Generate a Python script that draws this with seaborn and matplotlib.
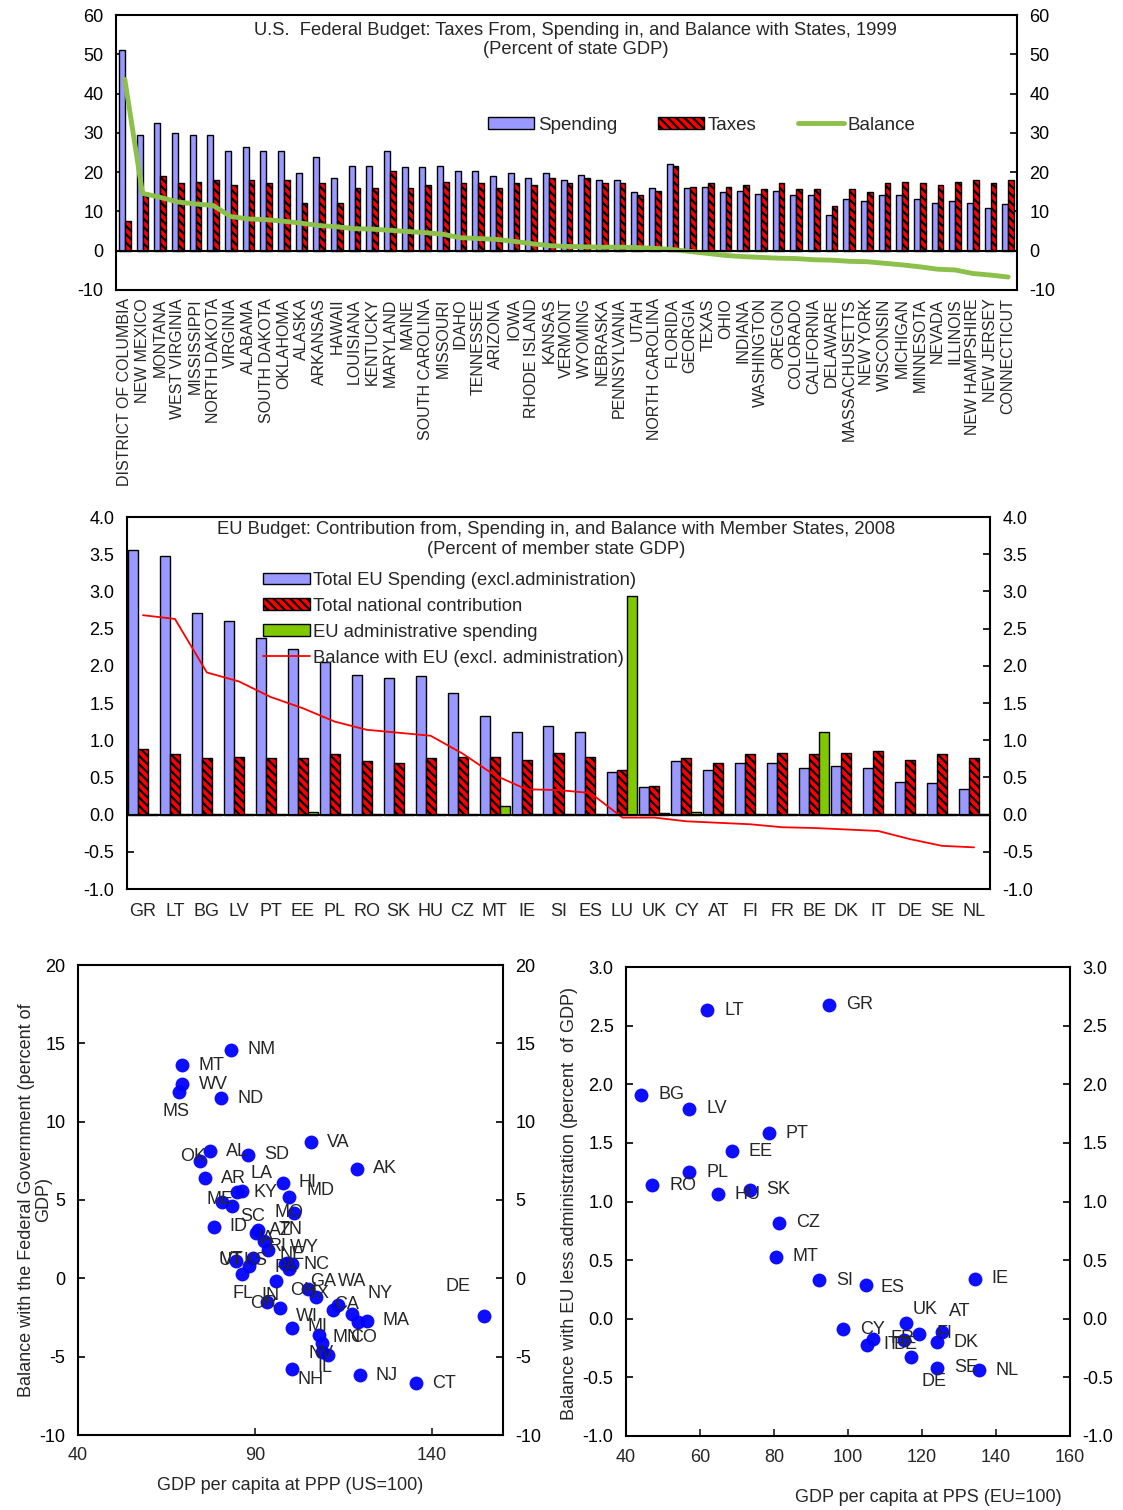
import numpy as np
import pandas as pd
import matplotlib
matplotlib.use("Agg")
import matplotlib.pyplot as plt
import seaborn as sns
from matplotlib.patches import Patch
from matplotlib.lines import Line2D
from matplotlib.ticker import FormatStrFormatter, MultipleLocator

# ---------------- data: US federal budget 1999 ----------------
states = ["DISTRICT OF COLUMBIA", "NEW MEXICO", "MONTANA", "WEST VIRGINIA", "MISSISSIPPI",
          "NORTH DAKOTA", "VIRGINIA", "ALABAMA", "SOUTH DAKOTA", "OKLAHOMA", "ALASKA",
          "ARKANSAS", "HAWAII", "LOUISIANA", "KENTUCKY", "MARYLAND", "MAINE",
          "SOUTH CAROLINA", "MISSOURI", "IDAHO", "TENNESSEE", "ARIZONA", "IOWA",
          "RHODE ISLAND", "KANSAS", "VERMONT", "WYOMING", "NEBRASKA", "PENNSYLVANIA",
          "UTAH", "NORTH CAROLINA", "FLORIDA", "GEORGIA", "TEXAS", "OHIO", "INDIANA",
          "WASHINGTON", "OREGON", "COLORADO", "CALIFORNIA", "DELAWARE", "MASSACHUSETTS",
          "NEW YORK", "WISCONSIN", "MICHIGAN", "MINNESOTA", "NEVADA", "ILLINOIS",
          "NEW HAMPSHIRE", "NEW JERSEY", "CONNECTICUT"]
state_codes = ["DC", "NM", "MT", "WV", "MS", "ND", "VA", "AL", "SD", "OK", "AK", "AR", "HI",
               "LA", "KY", "MD", "ME", "SC", "MO", "ID", "TN", "AZ", "IA", "RI", "KS", "VT",
               "WY", "NE", "PA", "UT", "NC", "FL", "GA", "TX", "OH", "IN", "WA", "OR", "CO",
               "CA", "DE", "MA", "NY", "WI", "MI", "MN", "NV", "IL", "NH", "NJ", "CT"]
us_spending = [51.1, 29.5, 32.6, 29.9, 29.5, 29.5, 25.5, 26.5, 25.5, 25.5, 19.8, 23.8, 18.4,
               21.6, 21.6, 25.5, 21.2, 21.2, 21.6, 20.3, 20.3, 19.0, 19.8, 18.4, 19.8, 18.0,
               19.4, 18.0, 18.0, 14.9, 15.9, 22.0, 15.9, 16.3, 14.9, 15.3, 14.5, 15.3, 14.1,
               14.1, 9.1, 13.2, 12.7, 14.1, 14.1, 13.2, 12.2, 12.7, 12.2, 10.9, 11.8]
us_taxes = [7.5, 14.7, 19.0, 17.2, 17.6, 18.0, 16.8, 18.0, 17.2, 18.0, 12.2, 17.2, 12.2,
            15.9, 15.9, 20.3, 15.9, 16.8, 17.6, 17.2, 17.2, 15.9, 17.2, 16.7, 18.4, 17.2,
            18.4, 17.2, 17.2, 14.1, 15.3, 21.6, 16.3, 17.2, 16.3, 16.7, 15.8, 17.2, 15.8,
            15.8, 11.4, 15.8, 14.9, 17.2, 17.6, 17.2, 16.7, 17.6, 18.0, 17.2, 18.0]
us_balance = [43.6, 14.6, 13.6, 12.4, 11.9, 11.5, 8.7, 8.1, 7.9, 7.5, 7.0, 6.4, 6.1, 5.6,
              5.5, 5.2, 4.9, 4.6, 4.2, 3.3, 3.1, 2.9, 2.4, 1.8, 1.3, 1.1, 1.0, 0.9, 0.9, 0.8,
              0.6, 0.3, -0.2, -0.7, -1.2, -1.5, -1.7, -1.9, -2.0, -2.3, -2.4, -2.7, -2.8,
              -3.2, -3.6, -4.1, -4.7, -4.9, -5.8, -6.2, -6.7]
us_gdp = [np.nan, 83.2, 69.5, 69.5, 68.6, 80.4, 105.8, 77.4, 88.0, 74.4, 118.9, 75.9, 97.8,
          86.4, 85.0, 99.6, 80.7, 83.5, 101.0, 78.3, 90.8, 90.2, 92.5, 93.6, 89.5, 84.7,
          99.0, 98.5, 100.5, 88.2, 99.5, 86.3, 96.0, 104.8, 107.3, 93.5, 113.4, 97.0,
          112.0, 117.5, 154.5, 121.5, 119.0, 100.5, 108.0, 109.0, 109.0, 110.5, 100.4,
          119.5, 135.4]

# ---------------- data: EU budget 2008 ----------------
eu_countries = ["GR", "LT", "BG", "LV", "PT", "EE", "PL", "RO", "SK", "HU", "CZ", "MT", "IE",
                "SI", "ES", "LU", "UK", "CY", "AT", "FI", "FR", "BE", "DK", "IT", "DE", "SE",
                "NL"]
eu_spending = [3.56, 3.47, 2.71, 2.60, 2.37, 2.23, 2.05, 1.88, 1.84, 1.86, 1.63, 1.33, 1.11,
               1.19, 1.11, 0.57, 0.37, 0.72, 0.60, 0.69, 0.69, 0.63, 0.65, 0.63, 0.44, 0.42,
               0.35]
eu_contribution = [0.88, 0.81, 0.76, 0.78, 0.76, 0.76, 0.81, 0.72, 0.69, 0.76, 0.78, 0.78,
                   0.74, 0.83, 0.78, 0.60, 0.39, 0.76, 0.69, 0.81, 0.83, 0.81, 0.83, 0.85,
                   0.74, 0.81, 0.76]
eu_admin = [0.01, 0.01, 0.01, 0.01, 0.01, 0.03, 0.01, 0.01, 0.01, 0.01, 0.01, 0.12, 0.01,
            0.01, 0.01, 2.94, 0.02, 0.03, 0.01, 0.01, 0.01, 1.11, 0.01, 0.01, 0.01, 0.01,
            0.01]
eu_balance = [2.68, 2.63, 1.91, 1.79, 1.58, 1.43, 1.25, 1.14, 1.10, 1.06, 0.82, 0.53, 0.34,
              0.33, 0.29, -0.04, -0.04, -0.09, -0.11, -0.13, -0.17, -0.18, -0.20, -0.22,
              -0.33, -0.42, -0.44]
eu_gdp = [94.8, 62.0, 44.1, 57.1, 78.6, 68.6, 57.1, 47.1, 73.4, 64.8, 81.4, 80.5, 134.2,
          92.2, 104.8, np.nan, 115.7, 98.6, 125.3, 119.3, 106.8, 115.0, 124.0, 105.0, 117.0,
          124.0, 135.4]

# ---------------- style ----------------
sns.set_theme(style="ticks")
plt.rcParams["font.family"] = ["Liberation Sans", "DejaVu Sans"]
plt.rcParams["hatch.linewidth"] = 1.6
plt.rcParams["axes.linewidth"] = 1.5
plt.rcParams["axes.unicode_minus"] = False

BLUE = "#9999FF"
RED = "#FF0000"
GREEN_LINE = "#8CC04A"
GREEN_BAR = "#80C800"
HATCH = "\\\\\\\\"
FS = 13

W, H = 1123, 1510
fig = plt.figure(figsize=(W / 100, H / 100), dpi=100)


def px_axes(x0, y0, x1, y1):
    return fig.add_axes([x0 / W, 1 - y1 / H, (x1 - x0) / W, (y1 - y0) / H])


def style_box(ax):
    for s in ax.spines.values():
        s.set_visible(True)
        s.set_color("black")
        s.set_linewidth(1.5)
    ax.tick_params(axis="y", which="both", direction="in", length=5, width=1.2,
                   left=True, right=True, labelleft=True, labelright=True,
                   labelsize=FS, pad=9, colors="black")
    ax.set_xlabel("")
    ax.set_ylabel("")
    ax.grid(False)


# ---------------- top: US bars ----------------
ax1 = px_axes(116, 15, 1017, 290)
df_us = pd.DataFrame({
    "State": states * 2,
    "Series": ["Spending"] * len(states) + ["Taxes"] * len(states),
    "Value": us_spending + us_taxes,
})
sns.barplot(data=df_us, x="State", y="Value", hue="Series", order=states,
            hue_order=["Spending", "Taxes"], palette={"Spending": BLUE, "Taxes": RED},
            width=0.66, saturation=1, errorbar=None, edgecolor="black", linewidth=1.0,
            legend=False, ax=ax1)
for bar in ax1.containers[1]:
    bar.set_hatch(HATCH)
sns.lineplot(x=states, y=us_balance, sort=False, color=GREEN_LINE, linewidth=3.5, ax=ax1)
ax1.axhline(0, color="black", linewidth=1.5, zorder=5)
ax1.set_ylim(-10, 60)
ax1.set_xlim(-0.5, len(states) - 0.5)
ax1.yaxis.set_major_locator(MultipleLocator(10))
style_box(ax1)
ax1.tick_params(axis="x", length=0, labelsize=11.5, pad=6, labelrotation=90)
ax1.text(0.51, 0.975, "U.S.  Federal Budget: Taxes From, Spending in, and Balance with States, 1999\n"
         "(Percent of state GDP)", transform=ax1.transAxes, ha="center", va="top",
         fontsize=13.2, linespacing=1.2)
h_us = [Patch(facecolor=BLUE, edgecolor="black", linewidth=1.0),
        Patch(facecolor=RED, edgecolor="black", linewidth=1.0, hatch=HATCH),
        Line2D([0], [0], color=GREEN_LINE, linewidth=3.5)]
ax1.legend(h_us, ["Spending", "Taxes", "Balance"], ncol=3, loc="center",
           bbox_to_anchor=(0.65, 0.6), frameon=False, fontsize=13.5, handlelength=2.45,
           handleheight=0.6, handletextpad=0.2, columnspacing=2.2, borderpad=0)

# ---------------- middle: EU bars ----------------
ax2 = px_axes(127, 517, 990, 889)
n_eu = len(eu_countries)
df_eu = pd.DataFrame({
    "Country": eu_countries * 3,
    "Series": ["Spend"] * n_eu + ["Contr"] * n_eu + ["Admin"] * n_eu,
    "Value": eu_spending + eu_contribution + eu_admin,
})
sns.barplot(data=df_eu, x="Country", y="Value", hue="Series", order=eu_countries,
            hue_order=["Spend", "Contr", "Admin"],
            palette={"Spend": BLUE, "Contr": RED, "Admin": GREEN_BAR},
            width=0.94, saturation=1, errorbar=None, edgecolor="black", linewidth=1.0,
            legend=False, ax=ax2)
for bar in ax2.containers[1]:
    bar.set_hatch(HATCH)
sns.lineplot(x=eu_countries, y=eu_balance, sort=False, color=RED, linewidth=1.3, ax=ax2)
ax2.axhline(0, color="black", linewidth=1.5, zorder=5)
ax2.set_ylim(-1.0, 4.0)
ax2.set_xlim(-0.5, n_eu - 0.5)
ax2.yaxis.set_major_locator(MultipleLocator(0.5))
ax2.yaxis.set_major_formatter(FormatStrFormatter("%.1f"))
style_box(ax2)
ax2.tick_params(axis="x", length=0, labelsize=FS, pad=10)
ax2.text(0.497, 0.99, "EU Budget: Contribution from, Spending in, and Balance with Member States, 2008\n"
         "(Percent of member state GDP)", transform=ax2.transAxes, ha="center", va="top",
         fontsize=13.2, linespacing=1.25)
h_eu = [Patch(facecolor=BLUE, edgecolor="black", linewidth=1.0),
        Patch(facecolor=RED, edgecolor="black", linewidth=1.0, hatch=HATCH),
        Patch(facecolor=GREEN_BAR, edgecolor="black", linewidth=1.0),
        Line2D([0], [0], color=RED, linewidth=1.3)]
ax2.legend(h_eu, ["Total EU Spending (excl.administration)", "Total national contribution",
                  "EU administrative spending", "Balance with EU (excl. administration)"],
           loc="upper left", bbox_to_anchor=(0.147, 0.877), frameon=False, fontsize=13.3,
           handlelength=2.55, handleheight=0.6, handletextpad=0.15, labelspacing=0.48,
           borderpad=0)

# ---------------- bottom left: US scatter ----------------
ax3 = px_axes(78, 965, 503, 1435)
df_s = pd.DataFrame({"code": state_codes, "gdp": us_gdp, "bal": us_balance}).dropna()
sns.scatterplot(data=df_s, x="gdp", y="bal", color="#0000FF", s=100, linewidth=0,
                alpha=0.95, ax=ax3, zorder=3)
us_off = {"MS": (-17, -20), "OK": (-20, 4), "ME": (-16, 2), "LA": (8, 17), "MD": (17, 6),
          "MO": (-20, 0), "SC": (8, -10), "IA": (-7, 2), "TN": (21, 0), "KS": (-10, -3),
          "AZ": (13, 2), "NE": (-6, 10), "WY": (3, 15), "NC": (15, 4), "RI": (1, 4),
          "PA": (-18, -3), "TX": (-1, -4), "GA": (34, 0), "WA": (0, 23), "NY": (10, 29),
          "CA": (-18, 10), "OH": (-26, 7), "WI": (4, 12), "MI": (-11, 8), "MN": (10, 5),
          "CO": (17, -28), "NV": (-14, -2), "IL": (-10, -12), "NH": (6, -10),
          "DE": (-38, 29), "FL": (-9, -20), "VT": (-15, 2), "UT": (-30, 5), "OR": (-30, 5),
          "IN": (-6, 6)}
for _, r in df_s.iterrows():
    dx, dy = us_off.get(r["code"], (16, 0))
    ax3.annotate(r["code"], (r["gdp"], r["bal"]), xytext=(dx, dy),
                 textcoords="offset pixels", ha="left", va="center", fontsize=FS, zorder=4)
ax3.set_xlim(40, 160)
ax3.set_ylim(-10, 20)
ax3.set_xticks([40, 90, 140])
ax3.yaxis.set_major_locator(MultipleLocator(5))
style_box(ax3)
ax3.tick_params(axis="x", direction="in", length=5, labelsize=FS, pad=9)
fig.text(35 / W, 1 - 1200 / H, "Balance with the Federal Government (percent of\nGDP)",
         rotation=90, ha="center", va="center", fontsize=FS, multialignment="center",
         linespacing=1.05)
fig.text(290 / W, 1 - 1485 / H, "GDP per capita at PPP (US=100)", ha="center", va="center",
         fontsize=FS)

# ---------------- bottom right: EU scatter ----------------
ax4 = px_axes(626, 967, 1070, 1436)
df_e = pd.DataFrame({"code": eu_countries, "gdp": eu_gdp, "bal": eu_balance}).dropna()
sns.scatterplot(data=df_e, x="gdp", y="bal", color="#0000FF", s=100, linewidth=0,
                alpha=0.95, ax=ax4, zorder=3)
eu_off = {"UK": (7, 14), "AT": (7, 20), "DE": (11, -24), "BE": (-10, -5), "ES": (15, -3)}
for _, r in df_e.iterrows():
    dx, dy = eu_off.get(r["code"], (17, 0))
    ax4.annotate(r["code"], (r["gdp"], r["bal"]), xytext=(dx, dy),
                 textcoords="offset pixels", ha="left", va="center", fontsize=FS, zorder=4)
ax4.set_xlim(40, 160)
ax4.set_ylim(-1.0, 3.0)
ax4.xaxis.set_major_locator(MultipleLocator(20))
ax4.yaxis.set_major_locator(MultipleLocator(0.5))
ax4.yaxis.set_major_formatter(FormatStrFormatter("%.1f"))
style_box(ax4)
ax4.tick_params(axis="x", direction="in", length=5, labelsize=FS, pad=9)
fig.text(570 / W, 1 - 1203 / H, "Balance with EU less administration (percent  of GDP)",
         rotation=90, ha="center", va="center", fontsize=FS)
fig.text(928 / W, 1 - 1497 / H, "GDP per capita at PPS (EU=100)", ha="center", va="center",
         fontsize=FS)

fig.savefig("out.png", dpi=100, facecolor="white")
